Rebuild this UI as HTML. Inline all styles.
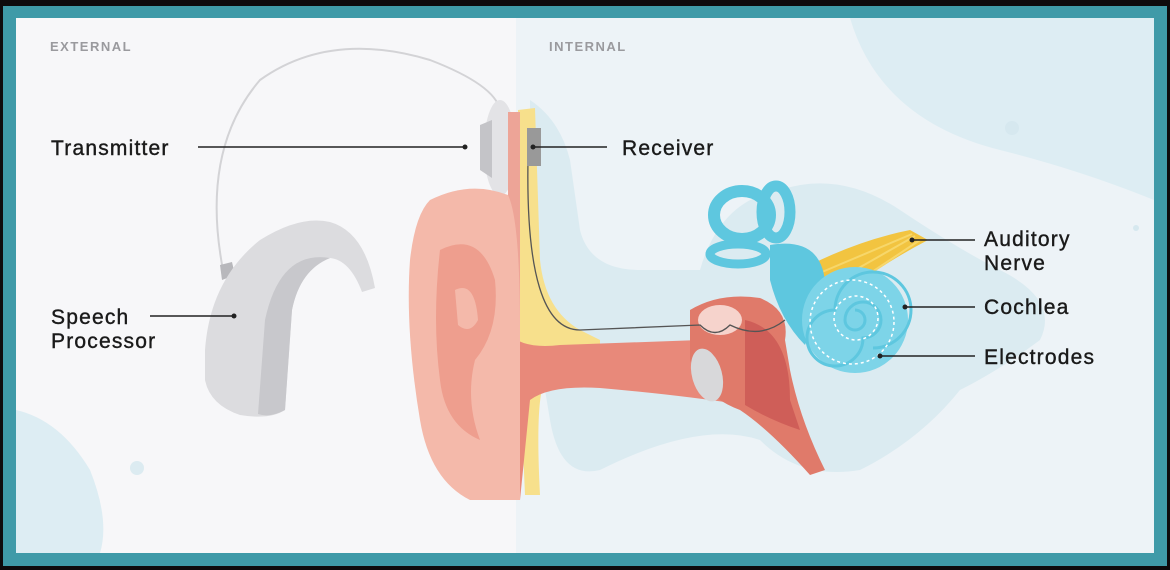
<!DOCTYPE html>
<html><head><meta charset="utf-8"><style>
html,body{margin:0;padding:0;background:#111;}
svg{display:block}
text{font-family:"Liberation Sans",sans-serif;}
</style></head><body>
<svg width="1170" height="570" viewBox="0 0 1170 570" xmlns="http://www.w3.org/2000/svg">
<rect x="0" y="0" width="1170" height="570" fill="#0e0b0d"/>
<rect x="3" y="6" width="1164" height="560" fill="#3f9aa8"/>
<rect x="16" y="18" width="1138" height="535" fill="#f7f7f9"/>
<rect x="516" y="18" width="638" height="535" fill="#edf3f7"/>
<!-- blobs -->
<path d="M850 18 Q880 120 1000 150 Q1080 170 1154 200 L1154 18 Z" fill="#ddedf3"/>
<path d="M16 410 Q60 420 90 470 Q110 520 100 553 L16 553 Z" fill="#ddedf3"/>
<path d="M530 100 Q560 120 570 160 L580 230 Q590 270 640 270 L700 270 Q720 200 780 190 Q840 170 900 210 Q960 250 1000 270 Q1060 300 1040 340 Q1000 370 960 390 Q920 440 860 470 Q800 480 760 440 Q700 420 600 470 Q560 480 550 420 L530 300 Z" fill="#dbebf1"/>
<circle cx="1012" cy="128" r="7" fill="#d6e8ef"/>
<circle cx="137" cy="468" r="7" fill="#dcebf1"/>
<circle cx="1136" cy="228" r="3" fill="#d6e8ef"/>
<text x="50" y="51" font-size="13" fill="#9a9a9e" letter-spacing="1.5" font-weight="bold">EXTERNAL</text>
<text x="549" y="51" font-size="13" fill="#9a9a9e" letter-spacing="1.5" font-weight="bold">INTERNAL</text>
<!-- wire -->
<path d="M223 270 Q200 150 260 80 Q330 30 430 60 Q495 85 500 110" fill="none" stroke="#d3d3d6" stroke-width="2"/>
<!-- speech processor -->
<path d="M220 265 L232 262 L235 275 L222 280 Z" fill="#b8b8bc"/>
<path d="M205 350 Q210 280 260 240 Q300 215 330 222 Q365 232 375 288 L362 292 Q350 260 330 258 Q300 270 292 310 L285 410 Q270 420 240 415 Q210 405 205 380 Z" fill="#dcdcdf"/>
<path d="M330 258 Q300 270 292 310 L285 410 Q270 418 258 414 L265 320 Q280 250 330 258 Z" fill="#c8c8cc"/>
<!-- transmitter -->
<ellipse cx="500" cy="148" rx="16" ry="48" fill="#e3e3e6"/>
<path d="M480 125 L492 120 L492 178 L480 170 Z" fill="#c4c4c8"/>
<!-- yellow bone strip -->
<path d="M518 110 L535 108 L540 260 Q545 310 580 330 L600 340 L600 380 L545 380 Q535 400 540 495 L525 495 L520 380 Z" fill="#f7e08c"/>
<path d="M508 112 L520 112 L520 490 L508 490 Z" fill="#eda497"/>
<!-- canal -->
<path d="M505 330 Q520 350 560 345 L700 340 Q720 338 740 345 L745 405 Q680 395 600 388 Q550 385 530 400 L520 500 L500 500 Z" fill="#e8897a"/>
<!-- outer ear -->
<path d="M430 200 Q470 180 508 195 Q520 220 520 330 L520 500 L470 500 Q430 480 420 420 Q405 330 410 260 Q415 215 430 200 Z" fill="#f4b9aa"/>
<path d="M440 250 Q480 230 495 280 Q500 330 475 360 Q465 400 480 440 Q445 425 440 380 Q432 320 440 250 Z" fill="#ee9e8e"/>
<path d="M455 290 Q475 280 478 320 Q470 335 458 325 Z" fill="#f4b9aa"/>
<!-- middle ear -->
<path d="M690 310 Q720 292 760 298 Q790 310 785 340 L790 370 Q800 420 825 470 L810 475 Q770 430 740 410 Q700 395 690 360 Z" fill="#e07a6a"/>
<path d="M745 320 Q790 330 790 400 L800 430 Q770 420 745 405 Z" fill="#cf5e58"/>
<ellipse cx="720" cy="320" rx="22" ry="15" fill="#f6d3cc"/>
<ellipse cx="707" cy="375" rx="15" ry="27" fill="#d8d8da" transform="rotate(-15 707 375)"/>
<!-- nerve -->
<path d="M810 265 Q860 240 910 230 L928 240 Q880 265 835 300 Z" fill="#f2c440"/>
<path d="M820 290 L915 236 M815 275 L912 234 M830 300 L920 240" stroke="#f7d76a" stroke-width="2"/>
<!-- canals -->
<ellipse cx="742" cy="215" rx="28" ry="24" fill="none" stroke="#5ec7df" stroke-width="12"/>
<ellipse cx="776" cy="212" rx="14" ry="26" fill="none" stroke="#5ec7df" stroke-width="11"/>
<ellipse cx="738" cy="254" rx="28" ry="10" fill="none" stroke="#5ec7df" stroke-width="9"/>
<path d="M770 245 Q830 235 825 300 L805 345 Q780 320 770 280 Z" fill="#5ec7df"/>
<!-- cochlea -->
<circle cx="855" cy="320" r="53" fill="#7dd4e8"/>
<path d="M855 320 m0 -10 a10 10 0 1 1 -10 10 a18 18 0 1 1 18 18 a28 28 0 1 1 -28 -28 a38 38 0 1 1 38 38" fill="none" stroke="#5ec7df" stroke-width="3"/>
<circle cx="852" cy="322" r="42" fill="none" stroke="#fff" stroke-width="1.5" stroke-dasharray="3 3"/>
<circle cx="856" cy="318" r="22" fill="none" stroke="#fff" stroke-width="1.5" stroke-dasharray="3 3"/>
<!-- electrode wire -->
<path d="M528 160 Q525 330 580 330 L700 325 Q715 340 730 325 Q760 340 785 320" fill="none" stroke="#555" stroke-width="1.3"/>
<rect x="527" y="128" width="14" height="38" fill="#999"/>
<!-- leader lines -->
<g stroke="#222" stroke-width="1.4">
<line x1="198" y1="147" x2="465" y2="147"/>
<line x1="533" y1="147" x2="607" y2="147"/>
<line x1="150" y1="316" x2="234" y2="316"/>
<line x1="912" y1="240" x2="975" y2="240"/>
<line x1="905" y1="307" x2="975" y2="307"/>
<line x1="880" y1="356" x2="975" y2="356"/>
</g>
<g fill="#222">
<circle cx="465" cy="147" r="2.5"/><circle cx="533" cy="147" r="2.5"/><circle cx="234" cy="316" r="2.5"/>
<circle cx="912" cy="240" r="2.5"/><circle cx="905" cy="307" r="2.5"/><circle cx="880" cy="356" r="2.5"/>
</g>
<g font-size="21" fill="#1a1a1a" letter-spacing="1.2" stroke="#1a1a1a" stroke-width="0.4">
<text x="51" y="155">Transmitter</text>
<text x="622" y="155">Receiver</text>
<text x="51" y="324">Speech</text>
<text x="51" y="348">Processor</text>
<text x="984" y="246">Auditory</text>
<text x="984" y="270">Nerve</text>
<text x="984" y="314">Cochlea</text>
<text x="984" y="364">Electrodes</text>
</g>
</svg>
</body></html>
